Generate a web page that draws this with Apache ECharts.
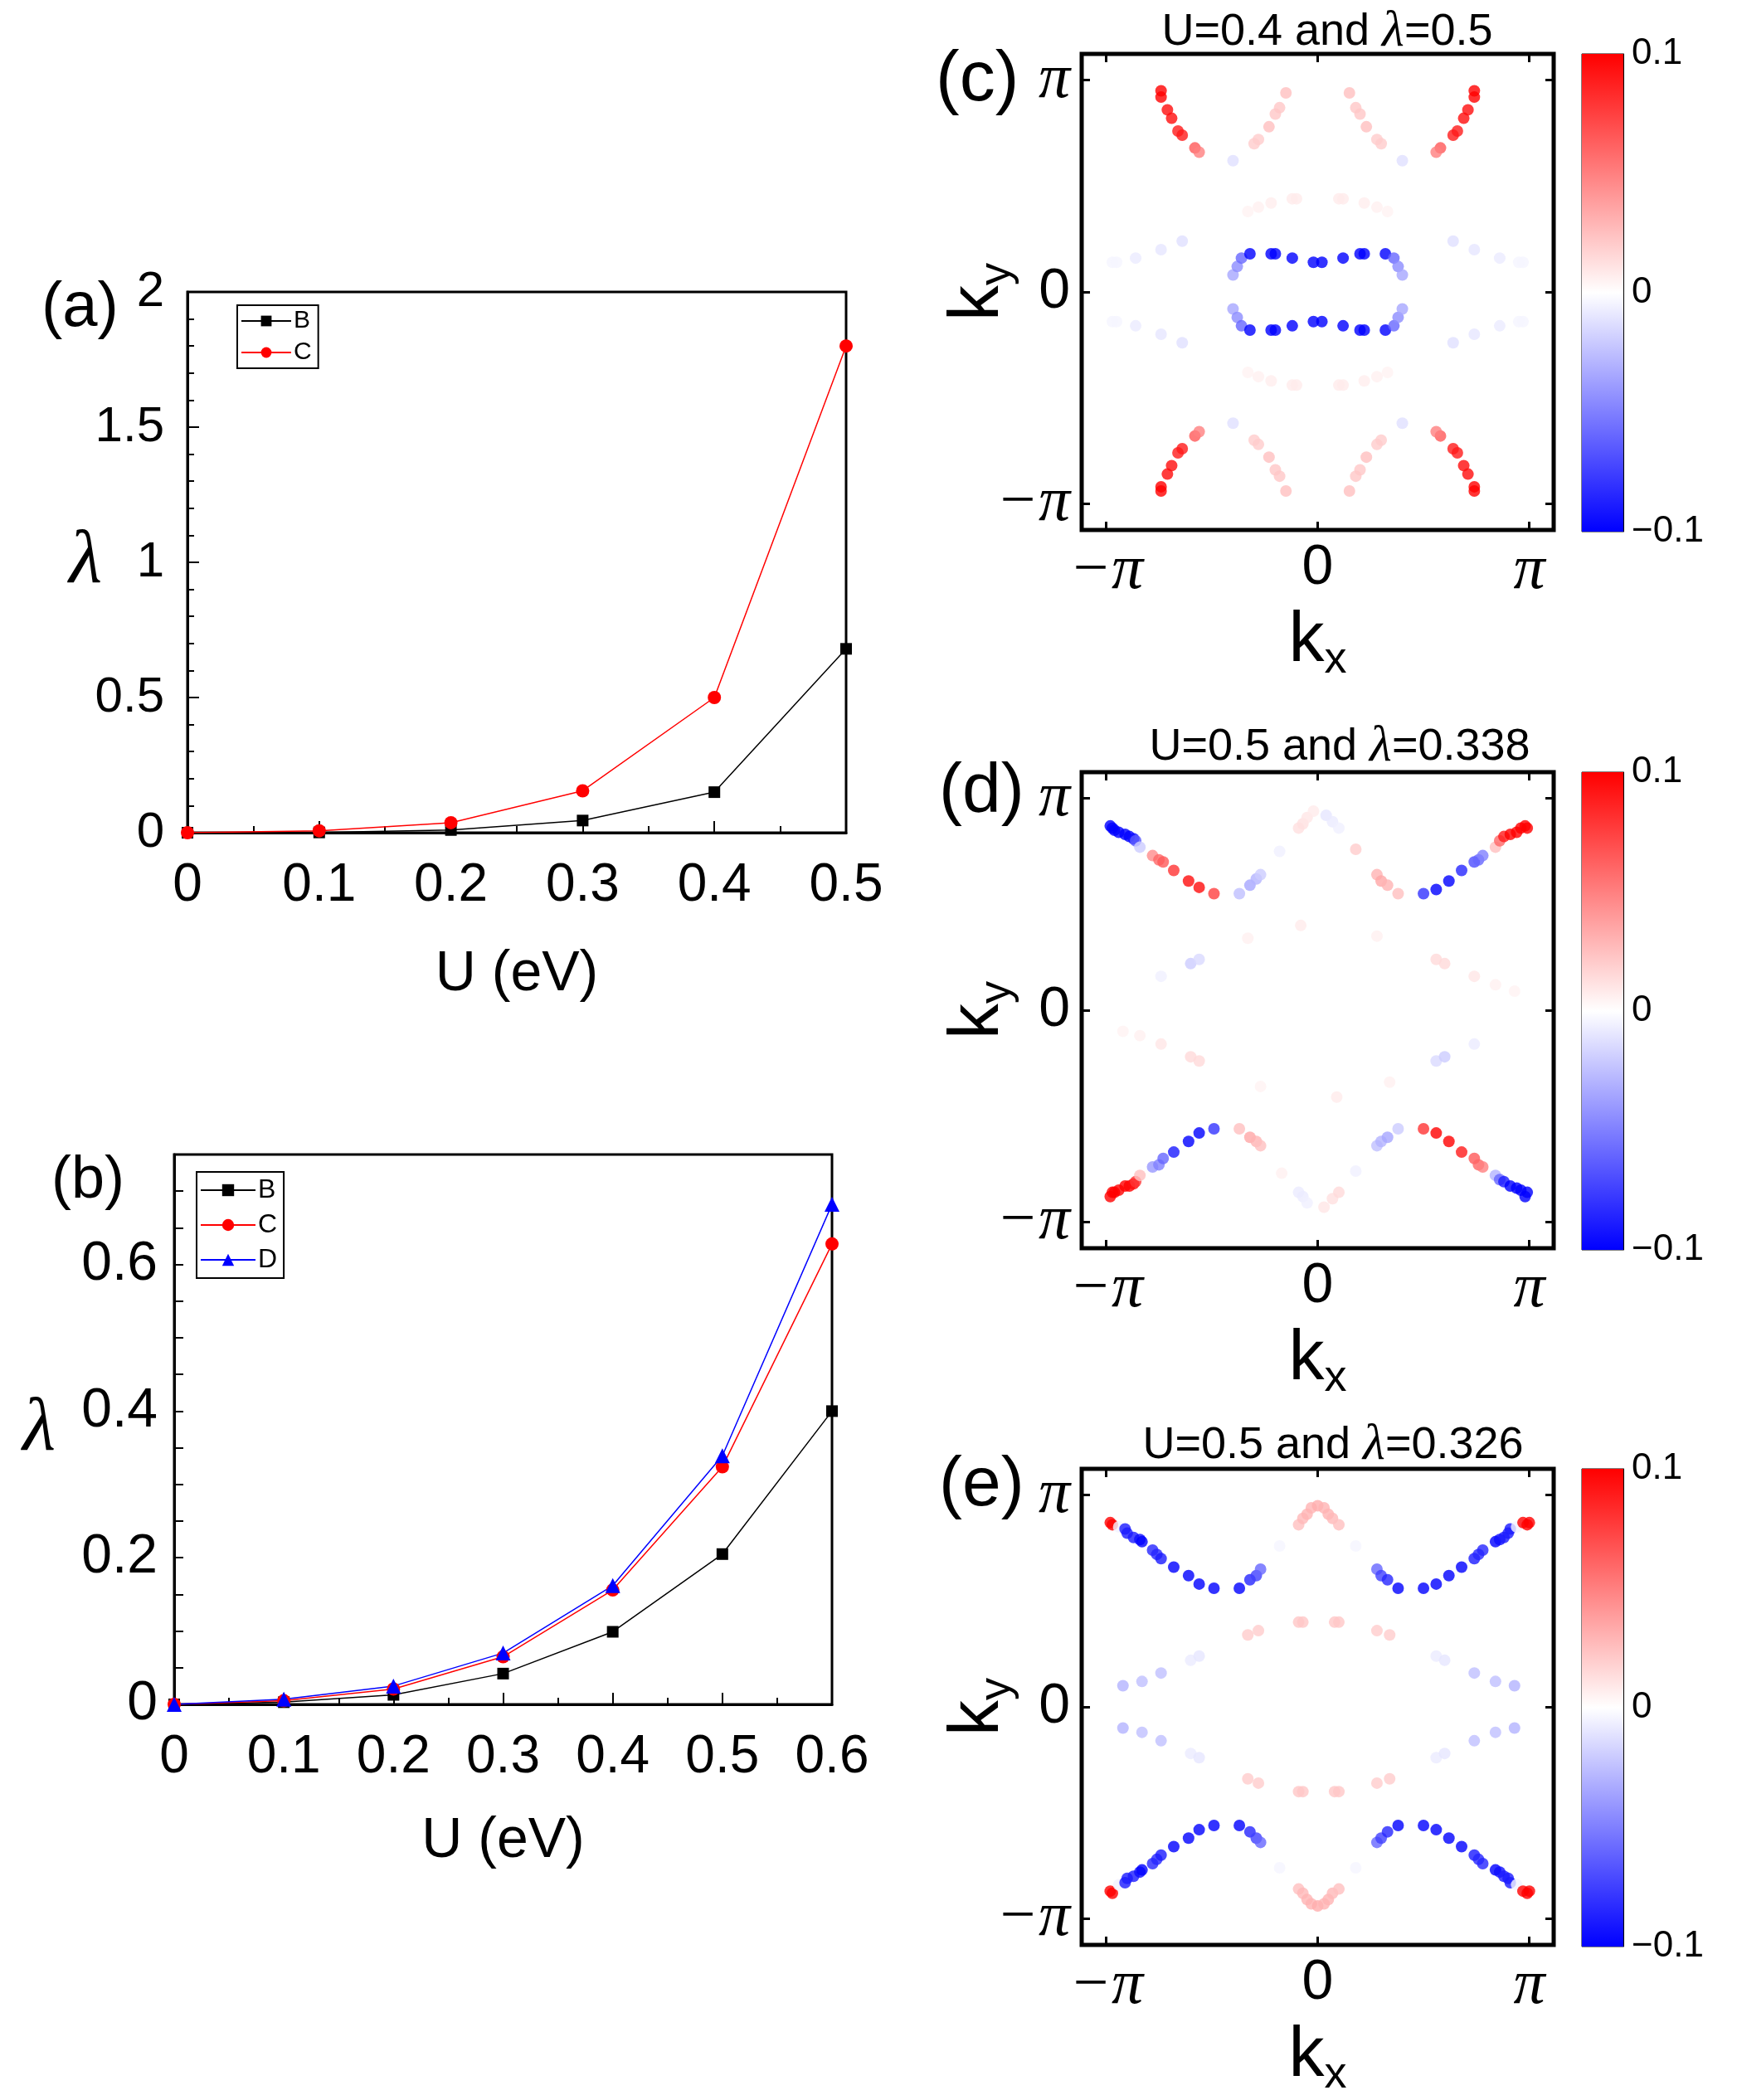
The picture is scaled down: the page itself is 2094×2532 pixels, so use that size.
<!DOCTYPE html>
<html>
<head>
<meta charset="utf-8">
<title>lambda vs U and gap function</title>
<script src="https://cdn.jsdelivr.net/npm/echarts@6.0.0/dist/echarts.min.js"></script>
<style>
  html, body { margin: 0; padding: 0; background: #fff; }
  #main { width: 2094px; height: 2532px; }
</style>
</head>
<body>
<div id="main"></div>
<script>
// (a) lambda vs U
var uA = [0, 0.1, 0.2, 0.3, 0.4, 0.5];
var lamA_B = [0, 0.001, 0.01, 0.045, 0.15, 0.68];
var lamA_C = [0, 0.007, 0.037, 0.155, 0.5, 1.80];

// (b) lambda vs U
var uB = [0, 0.1, 0.2, 0.3, 0.4, 0.5, 0.6];
var lamB_B = [0, 0.003, 0.013, 0.042, 0.099, 0.205, 0.40];
var lamB_C = [0, 0.005, 0.021, 0.065, 0.156, 0.324, 0.628];
var lamB_D = [0, 0.007, 0.025, 0.070, 0.162, 0.339, 0.682];

// gap on the Fermi surface: [kx/pi, ky/pi, value]
var gapC = [
  [-0.74,0.95,0.1],[-0.74,0.92,0.1],[-0.71,0.86,0.095],[-0.69,0.82,0.095],[-0.66,0.76,0.09],[-0.64,0.74,0.09],[-0.58,0.68,0.065],[-0.56,0.66,0.05],
  [0.74,0.95,0.1],[0.74,0.92,0.1],[0.71,0.86,0.095],[0.69,0.82,0.095],[0.66,0.76,0.09],[0.64,0.74,0.09],[0.58,0.68,0.065],[0.56,0.66,0.05],
  [-0.74,-0.94,0.1],[-0.74,-0.92,0.1],[-0.71,-0.86,0.095],[-0.69,-0.82,0.095],[-0.66,-0.76,0.09],[-0.64,-0.74,0.09],[-0.58,-0.68,0.065],[-0.56,-0.66,0.05],
  [0.74,-0.94,0.1],[0.74,-0.92,0.1],[0.71,-0.86,0.095],[0.69,-0.82,0.095],[0.66,-0.76,0.09],[0.64,-0.74,0.09],[0.58,-0.68,0.065],[0.56,-0.66,0.05],
  [-0.40,0.62,-0.012],[0.40,0.62,-0.012],[-0.40,-0.62,-0.012],[0.40,-0.62,-0.012],
  [-0.30,0.70,0.02],[-0.28,0.72,0.02],[-0.23,0.78,0.025],[-0.20,0.84,0.022],[-0.18,0.87,0.022],[-0.15,0.94,0.025],
  [0.30,0.70,0.02],[0.28,0.72,0.02],[0.23,0.78,0.025],[0.20,0.84,0.022],[0.18,0.87,0.022],[0.15,0.94,0.025],
  [-0.30,-0.70,0.02],[-0.28,-0.72,0.02],[-0.23,-0.78,0.025],[-0.20,-0.84,0.022],[-0.18,-0.87,0.022],[-0.15,-0.94,0.025],
  [0.30,-0.70,0.02],[0.28,-0.72,0.02],[0.23,-0.78,0.025],[0.20,-0.84,0.022],[0.18,-0.87,0.022],[0.15,-0.94,0.025],
  [-0.33,0.38,0.005],[-0.28,0.40,0.006],[-0.22,0.42,0.007],[-0.12,0.44,0.008],[-0.10,0.44,0.008],
  [0.10,0.44,0.008],[0.12,0.44,0.008],[0.22,0.42,0.007],[0.28,0.40,0.006],[0.33,0.38,0.005],
  [-0.33,-0.38,0.005],[-0.28,-0.40,0.006],[-0.22,-0.42,0.007],[-0.12,-0.44,0.008],[-0.10,-0.44,0.008],
  [0.10,-0.44,0.008],[0.12,-0.44,0.008],[0.22,-0.42,0.007],[0.28,-0.40,0.006],[0.33,-0.38,0.005],
  [-0.97,0.14,-0.004],[-0.95,0.14,-0.004],[-0.86,0.16,-0.008],[-0.74,0.20,-0.01],[-0.64,0.24,-0.012],
  [0.97,0.14,-0.004],[0.95,0.14,-0.004],[0.86,0.16,-0.008],[0.74,0.20,-0.01],[0.64,0.24,-0.012],
  [-0.97,-0.14,-0.004],[-0.95,-0.14,-0.004],[-0.86,-0.16,-0.008],[-0.74,-0.20,-0.01],[-0.64,-0.24,-0.012],
  [0.97,-0.14,-0.004],[0.95,-0.14,-0.004],[0.86,-0.16,-0.008],[0.74,-0.20,-0.01],[0.64,-0.24,-0.012],
  [-0.40,0.08,-0.035],[-0.38,0.12,-0.045],[-0.36,0.16,-0.06],[-0.32,0.18,-0.1],[-0.22,0.18,-0.1],[-0.20,0.18,-0.1],[-0.12,0.16,-0.1],[-0.02,0.14,-0.1],
  [0.02,0.14,-0.1],[0.12,0.16,-0.1],[0.20,0.18,-0.1],[0.22,0.18,-0.1],[0.32,0.18,-0.1],[0.36,0.16,-0.06],[0.38,0.12,-0.045],[0.40,0.08,-0.035],
  [-0.40,-0.08,-0.035],[-0.38,-0.12,-0.045],[-0.36,-0.16,-0.06],[-0.32,-0.18,-0.1],[-0.22,-0.18,-0.1],[-0.20,-0.18,-0.1],[-0.12,-0.16,-0.1],[-0.02,-0.14,-0.1],
  [0.02,-0.14,-0.1],[0.12,-0.16,-0.1],[0.20,-0.18,-0.1],[0.22,-0.18,-0.1],[0.32,-0.18,-0.1],[0.36,-0.16,-0.06],[0.38,-0.12,-0.045],[0.40,-0.08,-0.035]
];

var gapD = [
  [-0.98,0.87,-0.1],[-0.97,0.86,-0.1],[-0.96,0.85,-0.1],[-0.94,0.84,-0.1],[-0.91,0.83,-0.1],[-0.89,0.82,-0.1],[-0.87,0.81,-0.095],[-0.86,0.80,-0.065],
  [-0.84,0.77,-0.02],[-0.78,0.73,0.045],[-0.75,0.71,0.06],[-0.73,0.70,0.065],[-0.68,0.66,0.08],[-0.61,0.61,0.095],[-0.56,0.58,0.095],[-0.49,0.55,0.075],
  [-0.37,0.55,-0.025],[-0.32,0.59,-0.035],[-0.29,0.62,-0.03],[-0.27,0.64,-0.02],
  [-0.18,0.75,-0.006],
  [-0.09,0.86,0.012],[-0.07,0.88,0.012],[-0.05,0.91,0.01],[-0.02,0.94,0.008],
  [0.04,0.92,-0.01],[0.07,0.89,-0.008],[0.10,0.86,-0.006],
  [0.18,0.76,0.02],
  [0.28,0.64,0.03],[0.30,0.61,0.035],[0.33,0.59,0.03],[0.38,0.55,0.025],
  [0.50,0.55,-0.08],[0.56,0.57,-0.1],[0.62,0.61,-0.1],[0.68,0.66,-0.085],[0.74,0.70,-0.07],[0.76,0.71,-0.06],[0.78,0.73,-0.05],
  [0.84,0.77,0.025],[0.86,0.80,0.06],[0.88,0.82,0.09],[0.91,0.83,0.1],[0.94,0.84,0.1],[0.96,0.86,0.1],[0.98,0.87,0.1],[0.99,0.86,0.1],
  [-0.08,0.40,0.008],[-0.33,0.34,0.006],[0.28,0.35,0.006],
  [-0.60,0.22,-0.02],[-0.56,0.24,-0.015],[-0.74,0.16,-0.006],
  [0.56,0.24,0.015],[0.60,0.22,0.015],[0.74,0.16,0.01],[0.84,0.12,0.006],[0.93,0.09,0.005],
  [-0.92,-0.10,0.005],[-0.84,-0.12,0.006],[-0.74,-0.16,0.01],[-0.60,-0.22,0.015],[-0.56,-0.24,0.015],
  [0.74,-0.16,-0.008],[0.56,-0.24,-0.015],[0.60,-0.22,-0.02],
  [-0.27,-0.36,0.005],[0.34,-0.34,0.006],[0.09,-0.41,0.008],
  [-0.98,-0.88,0.1],[-0.97,-0.86,0.1],[-0.96,-0.86,0.1],[-0.94,-0.85,0.1],[-0.91,-0.83,0.1],[-0.89,-0.83,0.1],[-0.87,-0.82,0.095],[-0.86,-0.81,0.08],
  [-0.84,-0.78,0.025],[-0.78,-0.74,-0.04],[-0.75,-0.73,-0.05],[-0.73,-0.70,-0.06],[-0.68,-0.67,-0.09],[-0.61,-0.62,-0.1],[-0.56,-0.58,-0.1],[-0.49,-0.56,-0.08],
  [-0.37,-0.56,0.025],[-0.32,-0.60,0.035],[-0.29,-0.62,0.03],[-0.27,-0.64,0.025],
  [-0.17,-0.77,0.006],
  [-0.09,-0.86,-0.008],[-0.07,-0.88,-0.008],[-0.05,-0.91,-0.006],
  [0.03,-0.93,0.01],[0.07,-0.89,0.012],[0.10,-0.86,0.015],
  [0.18,-0.76,-0.006],
  [0.28,-0.64,-0.025],[0.30,-0.62,-0.03],[0.33,-0.60,-0.035],[0.38,-0.56,-0.02],
  [0.50,-0.56,0.08],[0.56,-0.58,0.1],[0.62,-0.62,0.1],[0.68,-0.67,0.09],[0.74,-0.70,0.065],[0.76,-0.73,0.06],[0.78,-0.74,0.05],
  [0.84,-0.78,-0.03],[0.86,-0.80,-0.06],[0.88,-0.81,-0.09],[0.91,-0.83,-0.1],[0.94,-0.84,-0.1],[0.96,-0.85,-0.1],[0.98,-0.88,-0.1],[0.99,-0.86,-0.1]
];

var gapE = [
  [-0.98,0.87,0.1],[-0.97,0.86,0.1],[-0.94,0.85,-0.005],[-0.91,0.84,-0.09],[-0.90,0.82,-0.09],[-0.87,0.80,-0.09],[-0.84,0.79,-0.095],[-0.83,0.78,-0.1],
  [-0.78,0.74,-0.085],[-0.76,0.72,-0.085],[-0.74,0.70,-0.09],[-0.68,0.66,-0.1],[-0.61,0.62,-0.1],[-0.56,0.58,-0.1],[-0.49,0.56,-0.1],
  [-0.37,0.56,-0.1],[-0.32,0.60,-0.085],[-0.29,0.62,-0.075],[-0.27,0.65,-0.06],
  [-0.18,0.76,-0.004],
  [-0.09,0.86,0.025],[-0.07,0.89,0.028],[-0.05,0.91,0.03],[-0.03,0.94,0.03],[0,0.95,0.032],[0.03,0.94,0.03],[0.05,0.91,0.03],[0.07,0.89,0.028],[0.10,0.86,0.025],
  [0.18,0.76,-0.004],
  [0.28,0.65,-0.06],[0.30,0.62,-0.075],[0.33,0.60,-0.085],[0.38,0.56,-0.1],
  [0.50,0.56,-0.1],[0.56,0.58,-0.1],[0.62,0.62,-0.1],[0.68,0.66,-0.1],[0.74,0.70,-0.09],[0.76,0.72,-0.085],[0.78,0.74,-0.085],
  [0.84,0.78,-0.1],[0.86,0.79,-0.095],[0.88,0.80,-0.09],[0.90,0.82,-0.09],[0.91,0.84,-0.09],[0.94,0.85,-0.005],[0.97,0.87,0.1],[0.99,0.86,0.1],[1.00,0.87,0.1],
  [-0.33,0.34,0.02],[-0.28,0.36,0.02],[-0.09,0.40,0.022],[-0.07,0.40,0.022],[0.08,0.40,0.022],[0.10,0.40,0.022],[0.28,0.36,0.02],[0.34,0.34,0.02],
  [-0.60,0.22,-0.008],[-0.56,0.24,-0.01],[-0.74,0.16,-0.025],[-0.83,0.12,-0.025],[-0.92,0.10,-0.03],
  [0.56,0.24,-0.008],[0.60,0.22,-0.01],[0.74,0.16,-0.025],[0.84,0.12,-0.025],[0.93,0.10,-0.03],
  [-0.92,-0.10,-0.03],[-0.83,-0.12,-0.025],[-0.74,-0.16,-0.025],[-0.60,-0.22,-0.008],[-0.56,-0.24,-0.01],
  [0.56,-0.24,-0.008],[0.60,-0.22,-0.01],[0.74,-0.16,-0.025],[0.84,-0.12,-0.025],[0.93,-0.10,-0.03],
  [-0.33,-0.34,0.02],[-0.28,-0.36,0.02],[-0.09,-0.40,0.022],[-0.07,-0.40,0.022],[0.08,-0.40,0.022],[0.10,-0.40,0.022],[0.28,-0.36,0.02],[0.34,-0.34,0.02],
  [-0.98,-0.87,0.1],[-0.97,-0.88,0.1],[-0.94,-0.84,-0.005],[-0.91,-0.83,-0.09],[-0.90,-0.81,-0.09],[-0.87,-0.80,-0.09],[-0.84,-0.78,-0.095],[-0.83,-0.77,-0.1],
  [-0.78,-0.74,-0.085],[-0.76,-0.72,-0.085],[-0.74,-0.70,-0.09],[-0.68,-0.66,-0.1],[-0.61,-0.62,-0.1],[-0.56,-0.58,-0.1],[-0.49,-0.56,-0.1],
  [-0.37,-0.56,-0.1],[-0.32,-0.59,-0.085],[-0.29,-0.62,-0.075],[-0.27,-0.64,-0.06],
  [-0.18,-0.76,-0.004],
  [-0.09,-0.86,0.025],[-0.07,-0.88,0.028],[-0.05,-0.91,0.03],[-0.03,-0.93,0.03],[0,-0.94,0.032],[0.03,-0.93,0.03],[0.05,-0.91,0.03],[0.07,-0.88,0.028],[0.10,-0.86,0.025],
  [0.18,-0.76,-0.004],
  [0.28,-0.64,-0.06],[0.30,-0.62,-0.075],[0.33,-0.59,-0.085],[0.38,-0.56,-0.1],
  [0.50,-0.56,-0.1],[0.56,-0.58,-0.1],[0.62,-0.62,-0.1],[0.68,-0.66,-0.1],[0.74,-0.70,-0.09],[0.76,-0.72,-0.085],[0.78,-0.74,-0.085],
  [0.84,-0.77,-0.1],[0.86,-0.78,-0.095],[0.88,-0.80,-0.09],[0.90,-0.81,-0.09],[0.91,-0.83,-0.09],[0.94,-0.84,-0.005],[0.97,-0.87,0.1],[0.99,-0.88,0.1],[1.00,-0.87,0.1]
];

var kTicks = [-1, 0, 1];          // -pi, 0, pi
var cbTicks = [-0.1, 0, 0.1];     // colorbar labels
var mapTitles = ['U=0.4 and ', 'U=0.5 and ', 'U=0.5 and '];
var mapLambda = ['=0.5', '=0.338', '=0.326'];

var chart = echarts.init(document.getElementById('main'));

var SANS = '"Liberation Sans", Arial, sans-serif';
var SERIF = '"Liberation Serif", "Times New Roman", serif';

// left column: line plots
var grids = [
  { left: 226, top: 352, width: 794, height: 652, show: true, borderColor: '#000', borderWidth: 3 },
  { left: 210, top: 1392, width: 793, height: 663, show: true, borderColor: '#000', borderWidth: 3 }
];

function uAxis(gi, max, gap) {
  return {
    gridIndex: gi, type: 'value', min: 0, max: max, interval: 0.1,
    axisLine: { lineStyle: { color: '#000', width: 3 } },
    axisTick: { inside: true, length: 14, lineStyle: { color: '#000', width: 2 } },
    minorTick: { show: true, splitNumber: 2, length: 8, lineStyle: { color: '#000', width: 2 } },
    splitLine: { show: false },
    axisLabel: {
      color: '#000', fontFamily: SANS, fontSize: 64, margin: 32,
      formatter: function (v) { return v === 0 ? '0' : v.toFixed(1); }
    },
    name: 'U (eV)', nameLocation: 'middle', nameGap: gap, nameMoveOverlap: false,
    nameTextStyle: { color: '#000', fontFamily: SANS, fontSize: 68 }
  };
}

var xAxes = [uAxis(0, 0.5, 137), uAxis(1, 0.6, 131)];
var yAxes = [
  {
    gridIndex: 0, type: 'value', min: 0, max: 2, interval: 0.5,
    axisLine: { lineStyle: { color: '#000', width: 3 } },
    axisTick: { inside: true, length: 14, lineStyle: { color: '#000', width: 2 } },
    minorTick: { show: true, splitNumber: 5, length: 8, lineStyle: { color: '#000', width: 2 } },
    splitLine: { show: false },
    axisLabel: { color: '#000', fontFamily: SANS, fontSize: 60, margin: 28 },
    name: 'λ', nameLocation: 'middle', nameRotate: 0, nameGap: 103, nameMoveOverlap: false,
    nameTextStyle: { color: '#000', fontFamily: SERIF, fontStyle: 'italic', fontSize: 92 }
  },
  {
    gridIndex: 1, type: 'value', min: 0, max: 0.75, interval: 0.05,
    axisLine: { lineStyle: { color: '#000', width: 3 } },
    axisTick: { inside: true, length: 11, lineStyle: { color: '#000', width: 2 } },
    splitLine: { show: false },
    axisLabel: { color: '#000', fontFamily: SANS, fontSize: 66, margin: 20, customValues: [0, 0.2, 0.4, 0.6] },
    name: 'λ', nameLocation: 'middle', nameRotate: 0, nameGap: 143, nameMoveOverlap: false,
    nameTextStyle: { color: '#000', fontFamily: SERIF, fontStyle: 'italic', fontSize: 92 }
  }
];

var series = [
  { name: 'B', type: 'line', xAxisIndex: 0, yAxisIndex: 0, data: uA.map(function (u, i) { return [u, lamA_B[i]]; }),
    symbol: 'rect', symbolSize: 14, itemStyle: { color: '#000' }, lineStyle: { color: '#000', width: 1.5 } },
  { name: 'C', type: 'line', xAxisIndex: 0, yAxisIndex: 0, data: uA.map(function (u, i) { return [u, lamA_C[i]]; }),
    symbol: 'circle', symbolSize: 16, itemStyle: { color: '#ff0000' }, lineStyle: { color: '#ff0000', width: 1.5 } },
  { name: 'B', type: 'line', xAxisIndex: 1, yAxisIndex: 1, data: uB.map(function (u, i) { return [u, lamB_B[i]]; }),
    symbol: 'rect', symbolSize: 14, itemStyle: { color: '#000' }, lineStyle: { color: '#000', width: 1.5 } },
  { name: 'C', type: 'line', xAxisIndex: 1, yAxisIndex: 1, data: uB.map(function (u, i) { return [u, lamB_C[i]]; }),
    symbol: 'circle', symbolSize: 16, itemStyle: { color: '#ff0000' }, lineStyle: { color: '#ff0000', width: 1.5 } },
  { name: 'D', type: 'line', xAxisIndex: 1, yAxisIndex: 1, data: uB.map(function (u, i) { return [u, lamB_D[i]]; }),
    symbol: 'triangle', symbolSize: 18, itemStyle: { color: '#0000ff' }, lineStyle: { color: '#0000ff', width: 1.5 } }
];

// right column: gap maps with colorbars
var mapTops = [65, 931, 1771];
var mapData = [gapC, gapD, gapE];
var KX = 1.115, KY = 1.124;

function piLabel(v) {
  if (v === 0) return '{z|0}';
  return v < 0 ? '{p|−π}' : '{p|π}';
}
var piRich = {
  z: { fontFamily: SANS, fontSize: 68, color: '#000' },
  p: { fontFamily: SERIF, fontStyle: 'italic', fontSize: 76, color: '#000' }
};
var kRich = {
  k: { fontFamily: SANS, fontSize: 86, color: '#000', lineHeight: 100 },
  s: { fontFamily: SANS, fontSize: 54, color: '#000', lineHeight: 54, verticalAlign: 'bottom' }
};

function kAxis(gi, pos, lim, withLabel, name, gap) {
  var ax = {
    gridIndex: gi, type: 'value', position: pos, min: -lim, max: lim,
    axisLine: { show: false, onZero: false },
    axisTick: { show: true, inside: true, length: 10, customValues: kTicks, lineStyle: { color: '#000', width: 3 } },
    axisLabel: { show: withLabel, customValues: kTicks, formatter: piLabel, rich: piRich, margin: pos === 'left' ? 14 : 12 },
    splitLine: { show: false }
  };
  if (name) {
    ax.name = name;
    ax.nameLocation = 'middle';
    ax.nameGap = gap;
    ax.nameMoveOverlap = false;
    ax.nameTextStyle = { rich: kRich };
    if (pos === 'left') ax.nameRotate = 90;
  }
  return ax;
}

mapTops.forEach(function (top, m) {
  var gi = grids.length;
  grids.push({ left: 1304, top: top, width: 569, height: 574, show: true, borderColor: '#000', borderWidth: 5 });
  var xi = xAxes.length, yi = yAxes.length;
  xAxes.push(kAxis(gi, 'bottom', KX, true, '{k|k}{s|x}', 84));
  xAxes.push(kAxis(gi, 'top', KX, false));
  yAxes.push(kAxis(gi, 'left', KY, true, '{k|k}{s|y}', 75));
  yAxes.push(kAxis(gi, 'right', KY, false));
  series.push({
    type: 'scatter', xAxisIndex: xi, yAxisIndex: yi, data: mapData[m],
    symbolSize: 14, silent: true
  });
});

var scatterIdx = [5, 6, 7];

mapTops.forEach(function (top) {
  var gi = grids.length;
  grids.push({ left: 1907, top: top, width: 50, height: 576, show: true, borderColor: '#000', borderWidth: 1 });
  var xi = xAxes.length, yi = yAxes.length;
  xAxes.push({ gridIndex: gi, type: 'category', data: ['bar'], show: false });
  yAxes.push({
    gridIndex: gi, type: 'value', position: 'right', min: -0.1, max: 0.1, interval: 0.02,
    axisLine: { show: true, onZero: false, lineStyle: { color: '#000', width: 1 } },
    axisTick: { inside: true, length: 6, lineStyle: { color: '#000', width: 1 } },
    splitLine: { show: false },
    axisLabel: {
      customValues: cbTicks, margin: 10, color: '#000', fontFamily: SANS, fontSize: 44,
      formatter: function (v) { return v === 0 ? '0' : (v > 0 ? '0.1' : '−0.1'); }
    }
  });
  series.push({
    type: 'bar', xAxisIndex: xi, yAxisIndex: yi, data: [cbTicks[2]], barWidth: '100%', barGap: '-100%', silent: true,
    itemStyle: { color: new echarts.graphic.LinearGradient(0, 0, 0, 1, [{ offset: 0, color: '#ff0000' }, { offset: 1, color: '#ffffff' }]) }
  });
  series.push({
    type: 'bar', xAxisIndex: xi, yAxisIndex: yi, data: [cbTicks[0]], barWidth: '100%', barGap: '-100%', silent: true,
    itemStyle: { color: new echarts.graphic.LinearGradient(0, 0, 0, 1, [{ offset: 0, color: '#ffffff' }, { offset: 1, color: '#0000ff' }]) }
  });
});

var titleRich = {
  n: { fontFamily: SANS, fontSize: 54, fontWeight: 'normal', color: '#000' },
  l: { fontFamily: SERIF, fontStyle: 'italic', fontWeight: 'normal', fontSize: 62, color: '#000' }
};
var mapTitleX = [1600, 1615, 1607];
var mapTitleY = [8, 870, 1712];

var labelStyle = function (size) {
  return { fontFamily: SANS, fontSize: size, fontWeight: 'normal', color: '#000' };
};
var titles = [
  { text: '(a)', left: 50, top: 334, padding: 0, textStyle: labelStyle(76) },
  { text: '(b)', left: 62, top: 1388, padding: 0, textStyle: labelStyle(72) },
  { text: '(c)', left: 1128, top: 54, padding: 0, textStyle: labelStyle(86) },
  { text: '(d)', left: 1132, top: 914, padding: 0, textStyle: labelStyle(84) },
  { text: '(e)', left: 1132, top: 1750, padding: 0, textStyle: labelStyle(84) }
];
mapTitles.forEach(function (t, m) {
  titles.push({
    text: '{n|' + t + '}{l|λ}{n|' + mapLambda[m] + '}',
    left: mapTitleX[m], top: mapTitleY[m], textAlign: 'center', padding: 0,
    textStyle: { fontWeight: 'normal', rich: titleRich }
  });
});

var option = {
  animation: false,
  backgroundColor: '#fff',
  title: titles,
  legend: [
    {
      data: ['B', 'C'], left: 286, top: 368, orient: 'vertical', selectedMode: false,
      itemWidth: 60, itemHeight: 16, itemGap: 8, padding: [4, 8, 4, 4],
      borderColor: '#000', borderWidth: 2,
      textStyle: { fontFamily: SANS, fontSize: 30, color: '#000', padding: [0, 0, 0, -2] }
    },
    {
      data: ['B', 'C', 'D'], left: 237, top: 1413, orient: 'vertical', selectedMode: false,
      itemWidth: 66, itemHeight: 18, itemGap: 10, padding: [6, 8, 6, 4],
      borderColor: '#000', borderWidth: 2,
      textStyle: { fontFamily: SANS, fontSize: 32, color: '#000', padding: [0, 0, 0, -2] }
    }
  ],
  visualMap: {
    type: 'continuous', show: false, min: -0.1, max: 0.1, dimension: 2,
    seriesIndex: scatterIdx,
    inRange: { color: ['#0000ff', '#ffffff', '#ff0000'] }
  },
  grid: grids,
  xAxis: xAxes,
  yAxis: yAxes,
  series: series
};

chart.setOption(option);
</script>
</body>
</html>
